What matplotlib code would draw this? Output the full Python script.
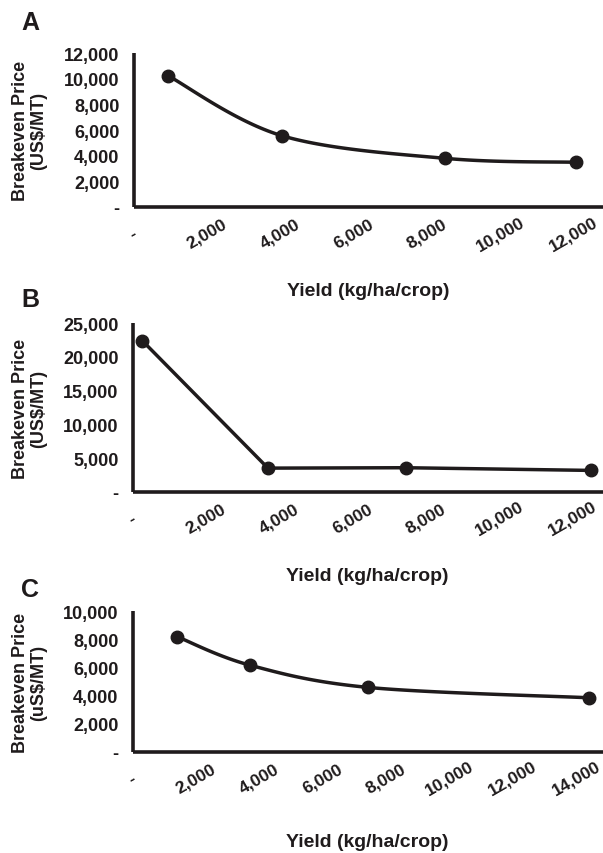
import numpy as np
import matplotlib
matplotlib.use("Agg")
import matplotlib.pyplot as plt

plt.rcParams['font.family'] = ['Liberation Sans', 'DejaVu Sans']
plt.rcParams['font.weight'] = 'bold'

# ---------------- data ----------------
panel_labels = ["A", "B", "C"]
y_titles = ["Breakeven Price\n(US$/MT)", "Breakeven Price\n(US$/MT)", "Breakeven Price\n(uS$/MT)"]
x_title = "Yield (kg/ha/crop)"

yield_a = [940, 4040, 8490, 12060]
price_a = [10250, 5570, 3800, 3490]

yield_b = [270, 3690, 7450, 12500]
price_b = [22400, 3500, 3560, 3160]

yield_c = [1400, 3710, 7430, 14410]
price_c = [8200, 6160, 4580, 3840]

xticks_a = [0, 2000, 4000, 6000, 8000, 10000, 12000]
yticks_a = [0, 2000, 4000, 6000, 8000, 10000, 12000]
xticks_b = [0, 2000, 4000, 6000, 8000, 10000, 12000]
yticks_b = [0, 5000, 10000, 15000, 20000, 25000]
xticks_c = [0, 2000, 4000, 6000, 8000, 10000, 12000, 14000]
yticks_c = [0, 2000, 4000, 6000, 8000, 10000]

smoothed = [True, False, True]

# --------------- layout ----------------
W, H = 603, 854
fig = plt.figure(figsize=(W / 100, H / 100), dpi=100)
INK = '#1f1b1c'

def fmt(v):
    return '-' if v == 0 else f"{v:,}"

def catmull(xs, ys, xlim, ylim, wpx, hpx, n=40):
    px = (np.asarray(xs, float) - xlim[0]) / (xlim[1] - xlim[0]) * wpx
    py = (np.asarray(ys, float) - ylim[0]) / (ylim[1] - ylim[0]) * hpx
    P = np.column_stack([px, py])
    out = []
    m = len(P)
    t = np.linspace(0, 1, n)[:, None]
    for i in range(m - 1):
        p0 = P[i - 1] if i > 0 else P[i]
        p1 = P[i]
        p2 = P[i + 1]
        p3 = P[i + 2] if i + 2 < m else P[i + 1]
        c1 = p1 + (p2 - p0) / 6.0
        c2 = p2 - (p3 - p1) / 6.0
        seg = ((1 - t) ** 3) * p1 + 3 * ((1 - t) ** 2) * t * c1 + 3 * (1 - t) * t ** 2 * c2 + t ** 3 * p2
        out.append(seg if i == 0 else seg[1:])
    S = np.vstack(out)
    sx = S[:, 0] / wpx * (xlim[1] - xlim[0]) + xlim[0]
    sy = S[:, 1] / hpx * (ylim[1] - ylim[0]) + ylim[0]
    return sx, sy

# pixel geometry per panel
geo = [
    dict(left=133.5, top=54.3, bottom=208.0, xscale=36.7, letter_y=23, xlab_y=292),
    dict(left=132.5, top=324.3, bottom=492.7, xscale=36.7, letter_y=300, xlab_y=577),
    dict(left=132.5, top=612.3, bottom=752.7, xscale=31.7, letter_y=590, xlab_y=843),
]
datasets = [(yield_a, price_a, xticks_a, yticks_a),
            (yield_b, price_b, xticks_b, yticks_b),
            (yield_c, price_c, xticks_c, yticks_c)]

for k, (g, (xs, ys, xt, yt)) in enumerate(zip(geo, datasets)):
    wpx = W - g['left']
    hpx = g['bottom'] - g['top']
    ax = fig.add_axes([g['left'] / W, (H - g['bottom']) / H, wpx / W, hpx / H])
    xmax = wpx / g['xscale'] * 1000
    xlim = (0, xmax)
    ylim = (0, yt[-1])
    ax.set_xlim(*xlim)
    ax.set_ylim(*ylim)
    for s in ['top', 'right']:
        ax.spines[s].set_visible(False)
    for s in ['left', 'bottom']:
        ax.spines[s].set_linewidth(2.6)
        ax.spines[s].set_color(INK)
        ax.spines[s].set_capstyle('butt')
    ax.set_facecolor('none')

    if smoothed[k]:
        sx, sy = catmull(xs, ys, xlim, ylim, wpx, hpx)
    else:
        sx, sy = xs, ys
    ax.plot(sx, sy, color=INK, lw=2.5, solid_capstyle='round', clip_on=False, zorder=3)
    ax.plot(xs, ys, 'o', color=INK, ms=9, clip_on=False, zorder=4)

    ax.set_yticks(yt)
    ax.set_yticklabels([fmt(v) for v in yt], fontsize=13, fontweight='bold', color=INK)
    ax.tick_params(axis='y', length=0, pad=10)
    ax.set_xticks(xt)
    ax.set_xticklabels([fmt(v) for v in xt], fontsize=12.5, fontweight='bold', color=INK,
                       rotation=30, ha='center', va='center', rotation_mode='anchor')
    ax.tick_params(axis='x', length=0, pad=19)

    cy = (g['top'] + g['bottom']) / 2
    fig.text(29.5 / W, 1 - cy / H, y_titles[k], rotation=90, ha='center', va='center',
             multialignment='center', fontsize=13, fontweight='bold', color=INK, linespacing=1.15)
    fig.text((g['left'] + W) / 2 / W, 1 - g['xlab_y'] / H, x_title, ha='center', va='center',
             fontsize=14, fontweight='bold', color=INK)
    fig.text(30 / W, 1 - g['letter_y'] / H, panel_labels[k], ha='center', va='center',
             fontsize=18, fontweight='bold', color=INK)

fig.savefig('out.png', dpi=100)
